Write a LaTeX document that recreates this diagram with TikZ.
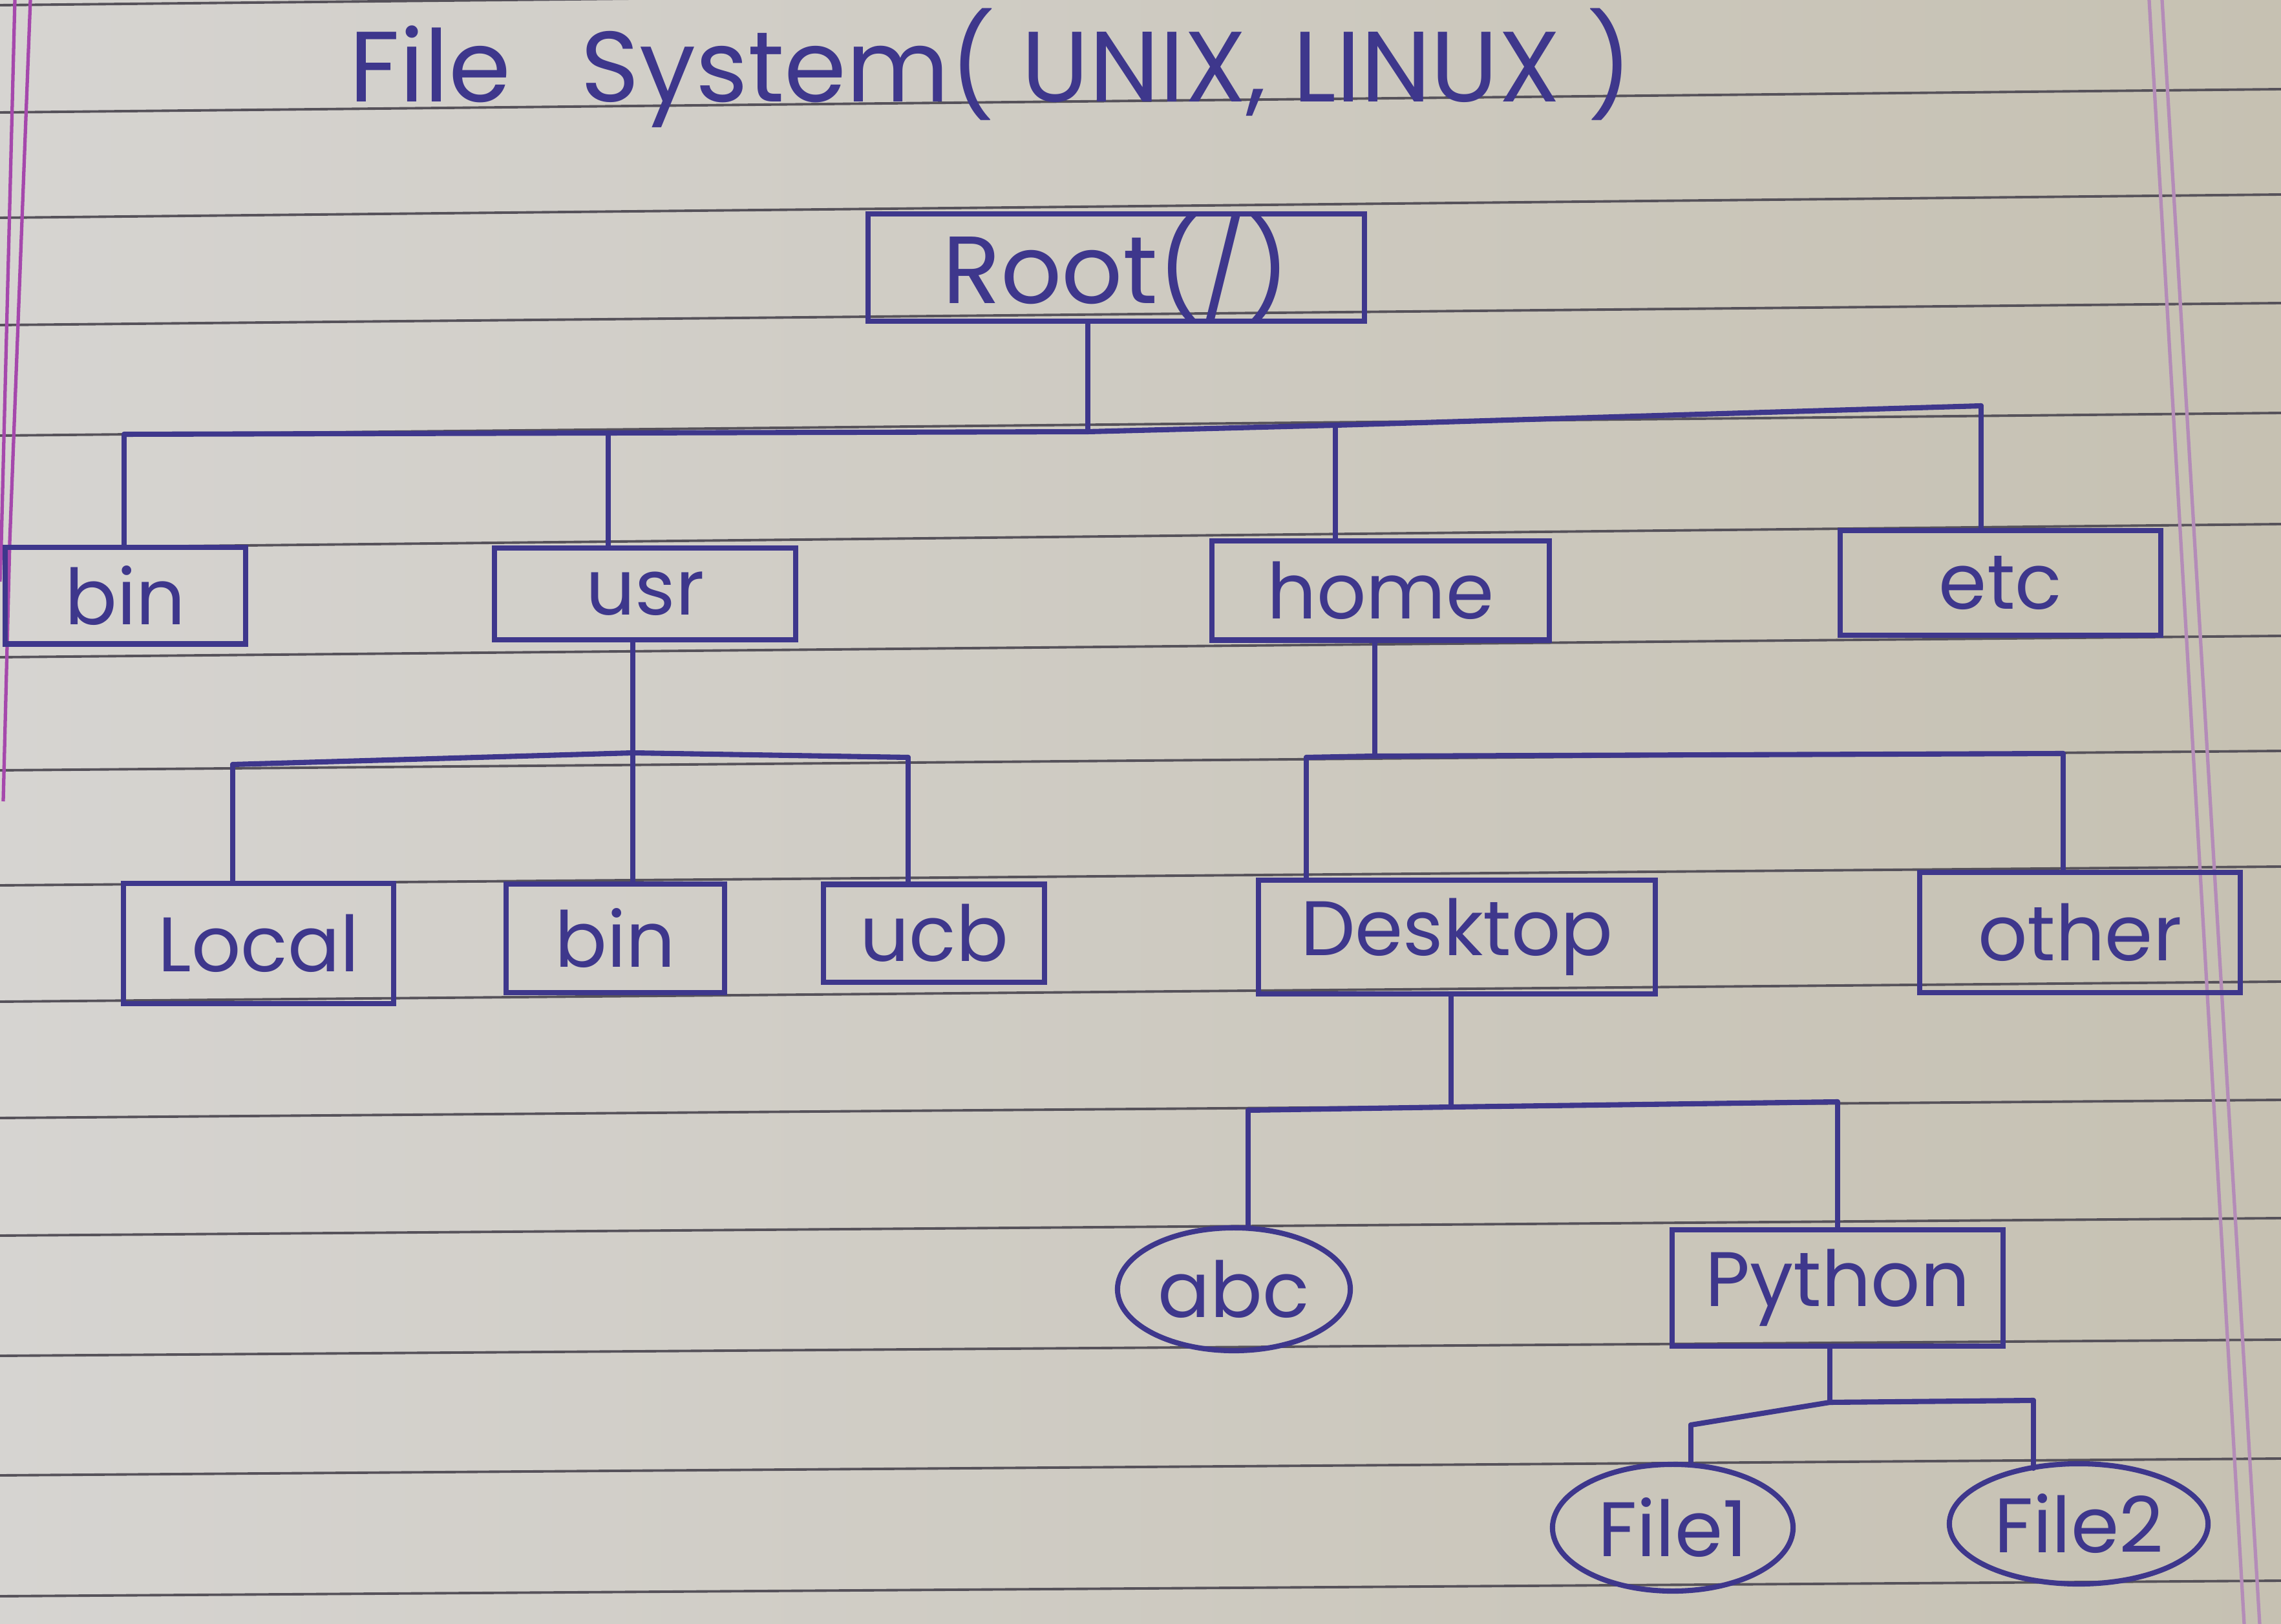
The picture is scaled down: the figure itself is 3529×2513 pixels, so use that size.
\documentclass[tikz,border=0pt]{standalone}
\usepackage{fontspec}
\setmainfont{Poppins}
\usetikzlibrary{shapes.geometric}
\definecolor{ink}{HTML}{3E378C}
\definecolor{paperL}{HTML}{D6D4D1}
\definecolor{paperR}{HTML}{C6C1B2}
\definecolor{rulecol}{HTML}{56525A}
\definecolor{marginL}{HTML}{A548AC}
\definecolor{marginR}{HTML}{B48CB8}
\begin{document}
\begin{tikzpicture}[x=0.01cm,y=-0.01cm,
  inkline/.style={draw=ink,line width=2.3pt,line cap=round,line join=round},
  dirbox/.style={rectangle,draw=ink,line width=2.3pt,inner sep=0pt,text=ink,font=\fontsize{34}{40}\selectfont},
  filenode/.style={ellipse,draw=ink,line width=2.3pt,inner sep=0pt,text=ink,font=\fontsize{34}{40}\selectfont},
  ruled/.style={draw=rulecol,line width=1.1pt},
  marginline/.style={line width=1.5pt}]
\useasboundingbox (0,0) rectangle (3529,2513);
% paper
\shade[left color=paperL,right color=paperR] (0,0) rectangle (3529,2513);
% ruled lines
\foreach \l/\r in {8/-28,174/138,337/301,503/469,674/639,848/811,1017/984,1192/1162,1370/1341,1550/1519,1730/1702,1912/1885,2098/2073,2283/2257,2470/2446}
  \draw[ruled] (0,\l) -- (3529,\r);
% margins
\draw[marginline,draw=marginL] (23,0) -- (2,840) -- (0,900);
\draw[marginline,draw=marginL] (47,0) -- (15,840) -- (5,1240);
\draw[marginline,draw=marginR] (3325,0) -- (3472,2513);
\draw[marginline,draw=marginR] (3345,0) -- (3496,2513);

% title
\node[text=ink,font=\fontsize{44}{50}\selectfont,anchor=base west,inner sep=0pt] (title) at (540,158) {File\hspace{0.7em}System( UNIX, LINUX )};

% nodes
\node[dirbox,font=\fontsize{42}{48}\selectfont,minimum width=7.67cm,minimum height=1.53cm] (root) at (1727,414) {Root(/)};
\node[dirbox,minimum width=3.72cm,minimum height=1.49cm] (bin) at (194,922) {bin};
\node[dirbox,minimum width=4.66cm,minimum height=1.42cm] (usr) at (998,919) {usr};
\node[dirbox,minimum width=5.22cm,minimum height=1.53cm] (home) at (2136,914) {home};
\node[dirbox,minimum width=4.95cm,minimum height=1.62cm] (etc) at (3095,902) {etc};
\node[dirbox,minimum width=4.17cm,minimum height=1.85cm] (local) at (400,1460) {Local};
\node[dirbox,minimum width=3.38cm,minimum height=1.67cm] (bin2) at (952,1452) {bin};
\node[dirbox,minimum width=3.42cm,minimum height=1.51cm] (ucb) at (1445,1444) {ucb};
\node[dirbox,minimum width=6.14cm,minimum height=1.75cm] (desktop) at (2254,1450) {Desktop};
\node[dirbox,minimum width=4.95cm,minimum height=1.85cm] (other) at (3218,1443) {other};
\node[filenode,minimum width=3.6cm,minimum height=1.9cm] (abc) at (1909,1995) {abc};
\node[dirbox,minimum width=5.11cm,minimum height=1.8cm] (python) at (2843,1993) {Python};
\node[filenode,minimum width=3.72cm,minimum height=1.96cm] (file1) at (2588,2364) {File1};
\node[filenode,minimum width=4.0cm,minimum height=1.86cm] (file2) at (3216,2358) {File2};

% level 1 connectors
\coordinate (j0) at (1683,668);
\coordinate (b1) at (192,672);
\coordinate (b2) at (941,670);
\coordinate (b3) at (2066,658);
\coordinate (b4) at (3065,628);
\draw[inkline] (root.south -| j0) -- (j0);
\draw[inkline] (b1) -- (b2) -- (j0) -- (b3) -- (b4);
\draw[inkline] (b1) -- (b1 |- bin.north);
\draw[inkline] (b2) -- (b2 |- usr.north);
\draw[inkline] (b3) -- (b3 |- home.north);
\draw[inkline] (b4) -- (b4 |- etc.north);

% usr children
\coordinate (j1) at (979,1165);
\coordinate (c1) at (360,1183);
\coordinate (c3) at (1405,1172);
\draw[inkline] (usr.south -| j1) -- (j1);
\draw[inkline] (c1) -- (j1) -- (c3);
\draw[inkline] (c1) -- (c1 |- local.north);
\draw[inkline] (j1) -- (j1 |- bin2.north);
\draw[inkline] (c3) -- (c3 |- ucb.north);

% home children
\coordinate (j2) at (2127,1170);
\coordinate (c4) at (2021,1172);
\coordinate (c5) at (3192,1166);
\draw[inkline] (home.south -| j2) -- (j2);
\draw[inkline] (c4) -- (j2) -- (c5);
\draw[inkline] (c4) -- (c4 |- desktop.north);
\draw[inkline] (c5) -- (c5 |- other.north);

% desktop children
\coordinate (j3) at (2245,1713);
\coordinate (c6) at (1931,1718);
\coordinate (c7) at (2843,1705);
\draw[inkline] (desktop.south -| j3) -- (j3);
\draw[inkline] (c6) -- (j3) -- (c7);
\draw[inkline] (c6) -- (c6 |- abc.north);
\draw[inkline] (c7) -- (python.north);

% python children
\coordinate (j4) at (2831,2170);
\coordinate (c8) at (2616,2205);
\coordinate (c9) at (3146,2167);
\draw[inkline] (python.south -| j4) -- (j4);
\draw[inkline] (c8) -- (j4) -- (c9);
\draw[inkline] (c8) -- (c8 |- file1.north);
\draw[inkline] (c9) -- (3146,2272);
\end{tikzpicture}
\end{document}
